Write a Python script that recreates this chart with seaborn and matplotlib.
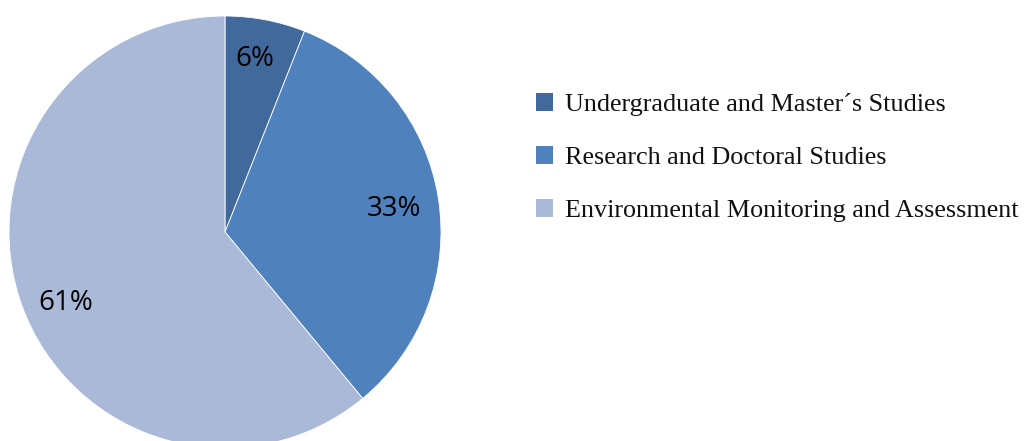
import matplotlib
matplotlib.use("Agg")
import matplotlib.pyplot as plt
import matplotlib.patches as mpatches
import numpy as np
import seaborn as sns

categories = [
    "Undergraduate and Master´s Studies",
    "Research and Doctoral Studies",
    "Environmental Monitoring and Assessment",
]
shares = [6, 33, 61]
colors = ["#41699C", "#4F81BD", "#AAB9D7"]

sns.set_theme(style="white")

W, H = 1025, 441
fig = plt.figure(figsize=(W / 100, H / 100), dpi=100)
fig.patch.set_facecolor("white")

# pie centred at (225, 232) px, radius 216 px
cx, cy, r = 225, 232, 216
ax = fig.add_axes([(cx - r) / W, (H - cy - r) / H, 2 * r / W, 2 * r / H])
wedges, texts, autotexts = ax.pie(
    shares,
    colors=colors,
    startangle=90,
    counterclock=False,
    autopct=lambda p: f"{p:.0f}%",
    pctdistance=0.8,
    wedgeprops=dict(linewidth=0.6, edgecolor="white"),
    textprops=dict(fontsize=20, family=["Open Sans", "DejaVu Sans"], color="black"),
)
# fine placement of the percentage labels: radius and angular nudge per wedge
label_radius = [0.813, 0.790, 0.806]
label_nudge_deg = [1.0, -1.25, 4.3]
for w, t, lr, dn in zip(wedges, autotexts, label_radius, label_nudge_deg):
    ang = np.deg2rad((w.theta1 + w.theta2) / 2 + dn)
    t.set_position((lr * np.cos(ang), lr * np.sin(ang)))

ax.set_xlim(-1, 1)
ax.set_ylim(-1, 1)
ax.set_aspect("equal")
ax.axis("off")
for w in wedges:
    w.set_clip_on(False)

handles = [mpatches.Patch(facecolor=c, edgecolor="none") for c in colors]
fig.legend(
    handles,
    categories,
    loc="upper left",
    bbox_to_anchor=(536 / W, 1 - 93 / H),
    frameon=False,
    prop=dict(family="Liberation Serif", size=18.8),
    labelcolor="#111111",
    handlelength=0.65,
    handleheight=0.65,
    handletextpad=0.45,
    labelspacing=1.16,
    borderaxespad=0,
    borderpad=0,
)

fig.savefig("out.png", dpi=100, facecolor="white")
